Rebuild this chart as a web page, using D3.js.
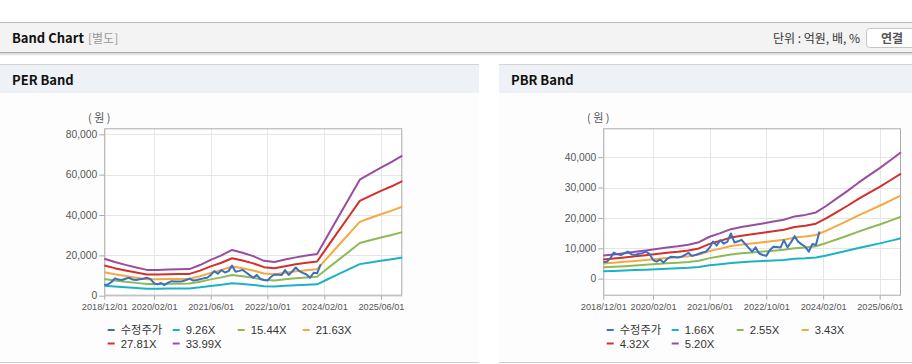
<!DOCTYPE html>
<html><head><meta charset="utf-8">
<script src="https://cdn.jsdelivr.net/npm/d3@7"></script>
<style>
html,body{margin:0;padding:0;background:#fff;}
svg{display:block;}
</style></head><body>
<svg id="c" width="912" height="364"></svg>
<script>
// ---------- DATA ----------
const bandDates = ["2018-12-01","2019-03-01","2019-06-01","2019-09-01","2019-12-01","2020-03-01","2020-06-01","2020-09-01","2020-12-01","2021-03-01","2021-06-01","2021-09-01","2021-12-01","2022-03-01","2022-06-01","2022-09-01","2022-12-01","2023-03-01","2023-06-01","2023-09-01","2023-12-01","2024-03-01","2024-06-01","2024-09-01","2024-12-01","2025-03-01","2025-06-01","2025-09-01","2025-12-01"];

const priceDates = ["2018-12-01","2019-01-01","2019-02-01","2019-03-01","2019-04-01","2019-05-01","2019-06-01","2019-07-01","2019-08-01","2019-09-01","2019-10-01","2019-11-01","2019-12-01","2020-01-01","2020-02-01","2020-03-01","2020-04-01","2020-05-01","2020-06-01","2020-07-01","2020-08-01","2020-09-01","2020-10-01","2020-11-01","2020-12-01","2021-01-01","2021-02-01","2021-03-01","2021-04-01","2021-05-01","2021-06-01","2021-07-01","2021-08-01","2021-09-01","2021-10-01","2021-11-01","2021-12-01","2022-01-01","2022-02-01","2022-03-01","2022-04-01","2022-05-01","2022-06-01","2022-07-01","2022-08-01","2022-09-01","2022-10-01","2022-11-01","2022-12-01","2023-01-01","2023-02-01","2023-03-01","2023-04-01","2023-05-01","2023-06-01","2023-07-01","2023-08-01","2023-09-01","2023-10-01","2023-11-01","2023-12-01","2024-01-01"];
const adjPrice = [5400,5600,6800,8600,8000,7800,8400,8900,8000,7800,8200,8400,8900,8200,6200,5600,6300,5300,6500,7200,7100,7000,7200,7800,8500,7500,7800,8200,8600,8900,10200,12200,10900,12700,11500,12200,14900,11900,12300,12800,11500,10200,8900,10300,8300,7800,7500,9400,10500,10400,10300,12700,10300,12000,14000,12200,11300,10500,8900,11400,11100,15500];

const xTickLabels = ["2018/12/01","2020/02/01","2021/06/01","2022/10/01","2024/02/01","2025/06/01"];
const xDomain = ["2018-12-01","2025-12-01"];

// PER band
const perLabels = ["9.26X","15.44X","21.63X","27.81X","33.99X"];
const per926  = [4990,4550,4170,3810,3490,3490,3540,3570,3600,4140,4850,5450,6180,5800,5340,4710,4550,4880,5180,5420,5640,8150,10650,13160,15660,16480,17300,18060,18900];
const per1544 = [8310,7590,6950,6360,5810,5810,5910,5950,6000,6900,8090,9080,10310,9670,8900,7860,7590,8130,8630,9040,9400,13580,17760,21940,26120,27480,28840,30110,31520];
const per2163 = [11650,10630,9740,8910,8150,8150,8270,8340,8400,9670,11330,12730,14450,13560,12470,11010,10630,11390,12090,12660,13170,19030,24880,30740,36590,38500,40410,42190,44170];
const per2781 = [14970,13660,12520,11460,10470,10470,10640,10720,10800,12440,14560,16360,18570,17430,16040,14160,13660,14650,15550,16280,16940,24460,31990,39520,47050,49500,51960,54250,56780];
const per3399 = [18300,16700,15300,14000,12800,12800,13000,13100,13200,15200,17800,20000,22700,21300,19600,17300,16700,17900,19000,19900,20700,29900,39100,48300,57500,60500,63500,66300,69400];
const perYTicks = [0,20000,40000,60000,80000];
const perYDomain = [0,83000];

// PBR band
const pbrLabels = ["1.66X","2.55X","3.43X","4.32X","5.20X"];
const pbr166 = [2430,2550,2680,2830,2970,3130,3290,3420,3580,3830,4410,4790,5200,5430,5620,5810,6000,6190,6540,6700,6960,7660,8460,9260,10090,10850,11620,12450,13280];
const pbr255 = [3730,3920,4120,4340,4560,4810,5050,5250,5490,5890,6770,7360,7990,8340,8630,8930,9220,9510,10050,10300,10690,11770,13000,14220,15500,16670,17850,19130,20400];
const pbr343 = [5010,5280,5540,5840,6130,6460,6790,7060,7390,7920,9100,9890,10750,11210,11610,12010,12400,12800,13520,13850,14380,15830,17480,19130,20840,22430,24010,25720,27440];
const pbr432 = [6310,6650,6980,7350,7730,8140,8560,8890,9310,9970,11470,12460,13540,14120,14620,15120,15620,16120,17030,17450,18110,19940,22020,24090,26250,28250,30240,32400,34560];
const pbr520 = [7600,8000,8400,8850,9300,9800,10300,10700,11200,12000,13800,15000,16300,17000,17600,18200,18800,19400,20500,21000,21800,24000,26500,29000,31600,34000,36400,39000,41600];
const pbrYTicks = [0,10000,20000,30000,40000];
const pbrYDomain = [-5600,49500];

const priceLabel = "수정주가";
const colors = ["#3c6fbf","#1cb2c6","#8dba55","#f5a83f","#d42f2a","#984e9e"];

// ---------- DRAW ----------
const svg = d3.select("#c");
const parse = d3.timeParse("%Y-%m-%d");
const fmt = d3.format(",");
const FONT = "'Liberation Sans', Arial, 'Noto Sans CJK KR', sans-serif";
const KFONT = "'Noto Sans CJK KR', 'Noto Sans', sans-serif";

// page header
svg.append("rect").attr("x",0).attr("y",0).attr("width",912).attr("height",364).attr("fill","#fff");
const defs = svg.append("defs");
const g1 = defs.append("linearGradient").attr("id","shadow").attr("x1",0).attr("y1",0).attr("x2",0).attr("y2",1);
g1.append("stop").attr("offset","0%").attr("stop-color","#d0d0d0");
g1.append("stop").attr("offset","100%").attr("stop-color","#ffffff");
svg.append("rect").attr("x",0).attr("y",22).attr("width",912).attr("height",31).attr("fill","#f3f3f3");
svg.append("line").attr("x1",0).attr("x2",912).attr("y1",22.5).attr("y2",22.5).attr("stroke","#b8b8b8");
svg.append("line").attr("x1",0).attr("x2",912).attr("y1",52.5).attr("y2",52.5).attr("stroke","#a9a9a9");
svg.append("rect").attr("x",0).attr("y",53).attr("width",912).attr("height",3).attr("fill","url(#shadow)");
svg.append("text").attr("x",12).attr("y",43).attr("font-family",KFONT).attr("font-size",13).attr("font-weight","bold").attr("fill","#111").text("Band Chart");
svg.append("text").attr("x",88).attr("y",43).attr("font-family",KFONT).attr("font-size",12).attr("fill","#999").text("[별도]");
svg.append("text").attr("x",860).attr("y",43).attr("text-anchor","end").attr("font-family",KFONT).attr("font-size",12).attr("fill","#333").text("단위 : 억원, 배, %");
svg.append("rect").attr("x",866.5).attr("y",28.5).attr("width",60).attr("height",19).attr("rx",3).attr("fill","#fff").attr("stroke","#c4c4c4");
svg.append("text").attr("x",892).attr("y",42.5).attr("text-anchor","middle").attr("font-family",KFONT).attr("font-size",12).attr("font-weight","bold").attr("fill","#555").text("연결");

function panel(cfg){
  const p = svg.append("g");
  // panel header
  p.append("rect").attr("x",cfg.px).attr("y",64).attr("width",cfg.pw).attr("height",29).attr("fill","#eef1f6");
  p.append("line").attr("x1",cfg.px).attr("x2",cfg.px+cfg.pw).attr("y1",64.5).attr("y2",64.5).attr("stroke","#d3d3d3");
  p.append("rect").attr("x",cfg.px).attr("y",93).attr("width",cfg.pw).attr("height",269).attr("fill","#fdfdfd");
  p.append("line").attr("x1",cfg.px).attr("x2",cfg.px+cfg.pw).attr("y1",362.5).attr("y2",362.5).attr("stroke","#cfcfcf");
  p.append("text").attr("x",cfg.px+12).attr("y",85).attr("font-family",KFONT).attr("font-size",13).attr("font-weight","bold").attr("fill","#111").text(cfg.title);

  const x = d3.scaleTime().domain(xDomain.map(parse)).range([cfg.l, cfg.r]);
  const y = d3.scaleLinear().domain(cfg.yDomain).range([cfg.b, cfg.t]);
  const xTicks = xTickLabels.map(s=>parse(s.replace(/\//g,"-")));

  // plot background + grid
  p.append("rect").attr("x",cfg.l).attr("y",cfg.t).attr("width",cfg.r-cfg.l).attr("height",cfg.b-cfg.t).attr("fill","#fff");
  const grid = p.append("g");
  grid.selectAll("line.v").data(xTicks).join("line").attr("class","v")
    .attr("x1",d=>Math.round(x(d))+0.5).attr("x2",d=>Math.round(x(d))+0.5).attr("y1",cfg.t).attr("y2",cfg.b).attr("stroke","#e6e6e6");
  grid.selectAll("line.h").data(cfg.yTicks).join("line").attr("class","h")
    .attr("y1",d=>Math.round(y(d))+0.5).attr("y2",d=>Math.round(y(d))+0.5).attr("x1",cfg.l).attr("x2",cfg.r).attr("stroke","#e6e6e6");

  // axes
  const ya = p.append("g").attr("transform",`translate(${cfg.l},0)`)
    .call(d3.axisLeft(y).tickValues(cfg.yTicks).tickFormat(fmt).tickSize(5).tickPadding(2));
  ya.select(".domain").remove();
  ya.selectAll("line").attr("stroke","#aaa");
  ya.selectAll("text").attr("font-family",FONT).attr("font-size",10.3).attr("fill","#555");
  const xa = p.append("g").attr("transform",`translate(0,${cfg.b})`)
    .call(d3.axisBottom(x).tickValues(xTicks).tickFormat(d3.timeFormat("%Y/%m/%d")).tickSize(4).tickPadding(3.5));
  xa.select(".domain").remove();
  xa.selectAll("line").attr("stroke","#aaa");
  xa.selectAll("text").attr("font-family",FONT).attr("font-size",9.2).attr("fill","#555");

  p.append("rect").attr("x",cfg.l+0.5).attr("y",cfg.t+0.5).attr("width",cfg.r-cfg.l-1).attr("height",cfg.b-cfg.t-1).attr("fill","none").attr("stroke","#aaa");

  p.append("text").attr("x",(cfg.l-5)).attr("y",cfg.t-6).attr("text-anchor","middle").attr("font-family",KFONT).attr("font-size",11).attr("fill","#555").text("( 원 )");

  // lines
  const bandLine = d3.line().x((d,i)=>x(parse(bandDates[i]))).y(d=>y(d));
  cfg.bands.forEach((arr,k)=>{
    p.append("path").attr("d",bandLine(arr)).attr("fill","none").attr("stroke",colors[k+1]).attr("stroke-width",2).attr("stroke-linejoin","round");
  });
  const priceLine = d3.line().x((d,i)=>x(parse(priceDates[i]))).y(d=>y(d));
  p.append("path").attr("d",priceLine(adjPrice)).attr("fill","none").attr("stroke",colors[0]).attr("stroke-width",2).attr("stroke-linejoin","round");

  // legend
  const items = [priceLabel].concat(cfg.labels);
  const lg = p.append("g");
  items.forEach((lab,i)=>{
    const lx = cfg.lx + (i%4)*65, ly = 330 + Math.floor(i/4)*13.5;
    lg.append("line").attr("x1",lx).attr("x2",lx+7).attr("y1",ly).attr("y2",ly).attr("stroke",colors[i]).attr("stroke-width",2);
    lg.append("text").attr("x",lx+13).attr("y",ly+4).attr("font-family",FONT).attr("font-size",11.3).attr("fill","#333").text(lab);
  });
}

panel({px:0,pw:479,title:"PER Band",l:104.3,r:402.3,t:128.3,b:295.7,yDomain:perYDomain,yTicks:perYTicks,bands:[per926,per1544,per2163,per2781,per3399],labels:perLabels,lx:107.7});
panel({px:499,pw:413,title:"PBR Band",l:603.3,r:901,t:128.3,b:295.7,yDomain:pbrYDomain,yTicks:pbrYTicks,bands:[pbr166,pbr255,pbr343,pbr432,pbr520],labels:pbrLabels,lx:606.7});
</script>
</body></html>
